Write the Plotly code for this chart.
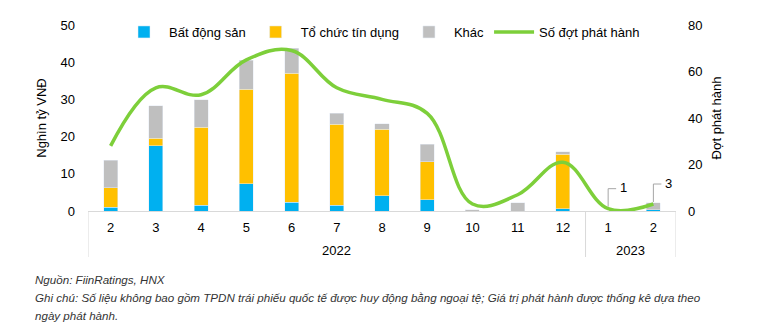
import plotly.graph_objects as go

months = ["2", "3", "4", "5", "6", "7", "8", "9", "10", "11", "12", "1", "2"]
years = ["2022", "2023"]
bds = [1.0, 17.6, 1.5, 7.3, 2.4, 1.5, 4.1, 3.0, 0.0, 0.0, 0.6, 0.0, 0.4]
tctd = [5.3, 1.9, 21.0, 25.4, 34.6, 21.8, 17.9, 10.2, 0.0, 0.0, 14.6, 0.0, 0.0]
khac = [7.4, 8.8, 7.4, 7.8, 6.7, 3.0, 1.5, 4.8, 0.4, 2.2, 0.7, 0.0, 1.8]
so_dot = [28, 53, 50, 65, 69, 53, 48, 42, 3, 7, 21, 1, 3]

x = list(range(len(months)))
FONT = "Liberation Sans, Arial, sans-serif"
GRID = "#D9D9D9"

fig = go.Figure()
fig.add_bar(x=x, y=bds, name="Bất động sản", marker_color="#00B0F0", width=0.31)
fig.add_bar(x=x, y=tctd, name="Tổ chức tín dụng", marker_color="#FFC000", width=0.31)
fig.add_bar(x=x, y=khac, name="Khác", marker_color="#BFBFBF", width=0.31)
fig.add_scatter(x=x, y=so_dot, name="Số đợt phát hành", yaxis="y2", mode="lines",
                line=dict(color="#7DCF3A", width=3.5, shape="spline", smoothing=1.1))

L, R, T, B = 88, 101, 25, 118
W, H = 777, 329
ph = H - T - B

def py(pix):
    return (H - B - pix) / ph

def px(pix):
    return (pix - L) / (W - L - R)

fig.update_layout(
    width=W, height=H, margin=dict(l=L, r=R, t=T, b=B),
    barmode="stack", bargap=0.69,
    paper_bgcolor="white", plot_bgcolor="white",
    font=dict(family=FONT, size=13, color="#000000"),
    showlegend=True,
    legend=dict(orientation="h", x=0.5, xanchor="center", y=py(32), yanchor="middle",
                font=dict(size=13), bgcolor="rgba(0,0,0,0)", traceorder="normal",
                itemwidth=40),
    xaxis=dict(range=[-0.5, 12.5], tickvals=x, ticktext=months, showgrid=False,
               showline=True, linecolor=GRID, linewidth=1, ticks="",
               ticklabelstandoff=4, zeroline=False, tickfont=dict(size=13)),
    yaxis=dict(range=[0, 50], dtick=10, showgrid=False, showline=False, zeroline=False,
               ticks="", ticklabelstandoff=12,
               title=dict(text="Nghìn tỷ VNĐ", font=dict(size=13), standoff=10)),
    yaxis2=dict(range=[0, 80], dtick=20, overlaying="y", side="right", showgrid=False,
                showline=False, zeroline=False, ticks="", ticklabelstandoff=11,
                title=dict(text="Đợt phát hành", font=dict(size=13), standoff=10)),
)

# group dividers
for xv in [-0.5, 10.5, 12.5]:
    fig.add_shape(type="line", xref="x", yref="paper", x0=xv, x1=xv, y0=0, y1=py(257),
                  line=dict(color=GRID, width=1))

fig.add_annotation(x=5, y=py(250), xref="x", yref="paper", text=years[0], showarrow=False,
                   font=dict(size=13), yanchor="middle")
fig.add_annotation(x=11.5, y=py(250), xref="x", yref="paper", text=years[1], showarrow=False,
                   font=dict(size=13), yanchor="middle")

# data labels with leader lines
for idx in [11, 12]:
    v = so_dot[idx]
    fig.add_shape(type="path", xref="x", yref="y2", xsizemode="pixel", ysizemode="pixel",
                  xanchor=idx, yanchor=v,
                  path="M 0,2 L 0,20 L 8,20",
                  line=dict(color="#A6A6A6", width=1))
    fig.add_annotation(x=idx, y=v, xref="x", yref="y2", text=str(v), showarrow=False,
                       xshift=15, yshift=21, font=dict(size=13))

notes = [
    ("Nguồn: FiinRatings, HNX", 279),
    ("Ghi chú: Số liệu không bao gồm TPDN trái phiếu quốc tế được huy động bằng ngoại tệ; "
     "Giá trị phát hành được thống kê dựa theo", 297),
    ("ngày phát hành.", 315),
]
for txt, yp in notes:
    fig.add_annotation(x=px(33), y=py(yp), xref="paper", yref="paper", text="<i>" + txt + "</i>",
                       showarrow=False, xanchor="left", yanchor="middle",
                       font=dict(size=11.6, color="#333333"))

fig.write_html("out.html")
